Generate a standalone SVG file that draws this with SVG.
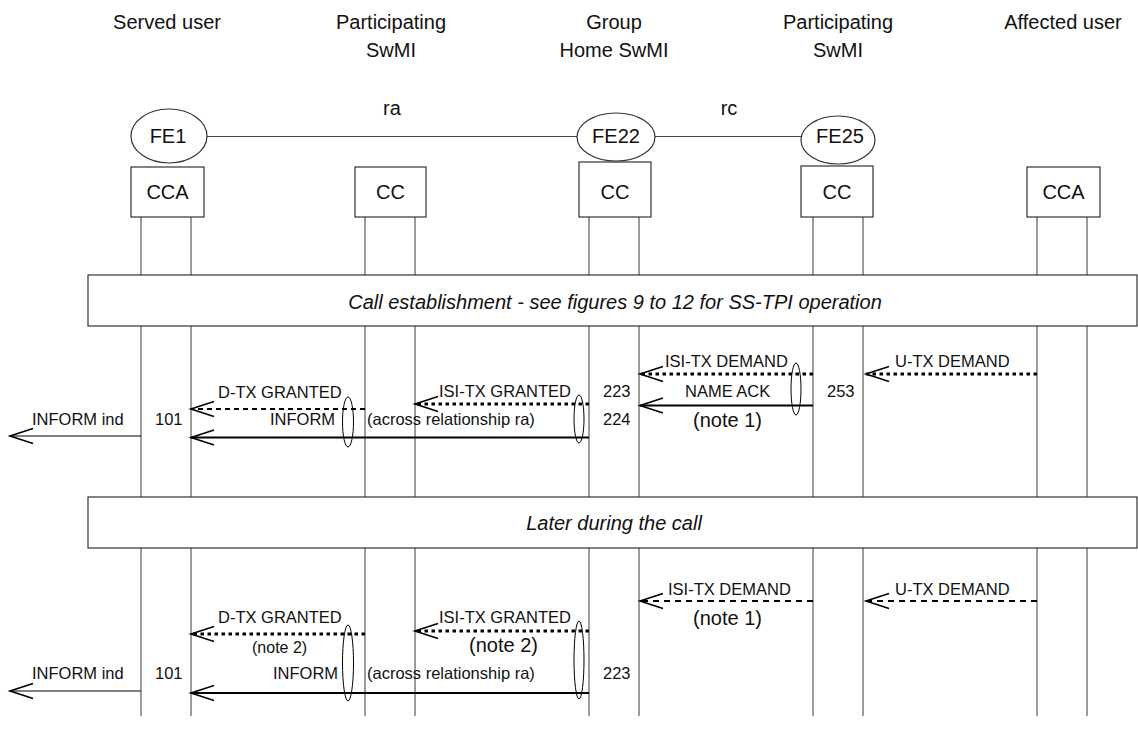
<svg xmlns="http://www.w3.org/2000/svg" width="1138" height="743" viewBox="0 0 1138 743">
<style>
text{font-family:"Liberation Sans",Arial,sans-serif;fill:#111}
.h{font-size:20px;text-anchor:middle}
.m{font-size:16.5px}
.n{font-size:20px}
.ns{font-size:16px}
.it{font-size:20px;font-style:italic;text-anchor:middle}
.life{stroke:#5a5a5a;stroke-width:1.2;fill:none}
.box{fill:#fff;stroke:#333;stroke-width:1.2}
.fe{fill:#fff;stroke:#333;stroke-width:1.2}
.rel{stroke:#444;stroke-width:1.2}
.solid{stroke:#000;stroke-width:2;fill:none}
.thin{stroke:#000;stroke-width:1;fill:none}
.dash{stroke:#000;stroke-width:2;stroke-dasharray:5 4;fill:none}
.dot{stroke:#000;stroke-width:3;stroke-dasharray:3.5 3.5;fill:none}
.oval{fill:none;stroke:#000;stroke-width:1}
</style>
<defs>
<marker id="ah" markerUnits="userSpaceOnUse" markerWidth="30" markerHeight="20" refX="0" refY="0" viewBox="-26 -10 30 20" orient="auto" overflow="visible">
<path d="M-23,-7.5 L0,0 L-23,7.5" fill="none" stroke="#000" stroke-width="1.6"/>
</marker>
</defs>

<g id="headers">
<text class="h" x="167" y="29">Served user</text>
<text class="h" x="391" y="29">Participating</text>
<text class="h" x="391" y="57">SwMI</text>
<text class="h" x="614" y="29">Group</text>
<text class="h" x="614" y="57">Home SwMI</text>
<text class="h" x="838" y="29">Participating</text>
<text class="h" x="838" y="57">SwMI</text>
<text class="h" x="1063" y="29">Affected user</text>
</g>

<g id="lifelines">
<line class="life" x1="141" y1="217" x2="141" y2="716"/>
<line class="life" x1="191" y1="217" x2="191" y2="716"/>
<line class="life" x1="365" y1="217" x2="365" y2="716"/>
<line class="life" x1="415" y1="217" x2="415" y2="716"/>
<line class="life" x1="589" y1="217" x2="589" y2="716"/>
<line class="life" x1="639" y1="217" x2="639" y2="716"/>
<line class="life" x1="813" y1="217" x2="813" y2="716"/>
<line class="life" x1="863" y1="217" x2="863" y2="716"/>
<line class="life" x1="1037" y1="217" x2="1037" y2="716"/>
<line class="life" x1="1087" y1="217" x2="1087" y2="716"/>
</g>

<g id="relations">
<line class="rel" x1="207" y1="136.5" x2="577" y2="136.5"/>
<line class="rel" x1="655" y1="136.5" x2="801" y2="136.5"/>
<text class="h" x="392" y="115">ra</text>
<text class="h" x="729" y="115">rc</text>
</g>

<g id="fe1">
<ellipse class="fe" cx="169" cy="136" rx="38" ry="27"/>
<text class="h" x="168" y="143">FE1</text>
<rect class="box" x="131" y="167" width="73" height="50"/>
<text class="h" x="167.5" y="199">CCA</text>
</g>
<g id="cc-part1">
<rect class="box" x="355" y="167" width="71" height="50"/>
<text class="h" x="390.5" y="199">CC</text>
</g>
<g id="fe22">
<ellipse class="fe" cx="616" cy="137" rx="39" ry="24"/>
<text class="h" x="616" y="143">FE22</text>
<rect class="box" x="579" y="162" width="72" height="55"/>
<text class="h" x="615" y="199">CC</text>
</g>
<g id="fe25">
<ellipse class="fe" cx="838" cy="140" rx="37" ry="24"/>
<text class="h" x="840" y="143">FE25</text>
<rect class="box" x="801" y="166" width="72" height="51"/>
<text class="h" x="837" y="199">CC</text>
</g>
<g id="cca-affected">
<rect class="box" x="1027" y="167" width="73" height="50"/>
<text class="h" x="1063.5" y="199">CCA</text>
</g>

<g id="phase1">
<rect class="box" x="88" y="275" width="1049" height="51"/>
<text class="it" x="615" y="309">Call establishment - see figures 9 to 12 for SS-TPI operation</text>
</g>
<g id="phase2">
<rect class="box" x="88" y="497" width="1049" height="51"/>
<text class="it" x="614" y="530">Later during the call</text>
</g>

<g id="connectors">
<line class="dot" x1="1037" y1="374" x2="866" y2="374" marker-end="url(#ah)"/>
<line class="dot" x1="813" y1="374" x2="640" y2="374" marker-end="url(#ah)"/>
<line class="solid" x1="813" y1="405.5" x2="640" y2="405.5" marker-end="url(#ah)"/>
<line class="dot" x1="589" y1="404" x2="415" y2="404" marker-end="url(#ah)"/>
<line class="dash" x1="365" y1="409" x2="191" y2="409" marker-end="url(#ah)"/>
<line class="solid" x1="589" y1="437.5" x2="191" y2="437.5" marker-end="url(#ah)"/>
<line class="thin" x1="141" y1="436" x2="10" y2="436" marker-end="url(#ah)"/>
<ellipse class="oval" cx="796" cy="389" rx="5" ry="26"/>
<ellipse class="oval" cx="579" cy="419" rx="5" ry="24"/>
<ellipse class="oval" cx="348" cy="422" rx="5.5" ry="25"/>
<line class="dash" x1="1037" y1="601" x2="866" y2="601" marker-end="url(#ah)" style="stroke-dasharray:6 5"/>
<line class="dash" x1="813" y1="601" x2="640" y2="601" marker-end="url(#ah)" style="stroke-dasharray:6 5"/>
<line class="dot" x1="589" y1="631" x2="415" y2="631" marker-end="url(#ah)"/>
<line class="dot" x1="365" y1="634" x2="191" y2="634" marker-end="url(#ah)"/>
<line class="solid" x1="589" y1="693" x2="191" y2="693" marker-end="url(#ah)"/>
<line class="thin" x1="141" y1="691" x2="10" y2="691" marker-end="url(#ah)"/>
<ellipse class="oval" cx="579" cy="660" rx="5" ry="39"/>
<ellipse class="oval" cx="348" cy="663" rx="5.5" ry="38"/>
</g>

<g id="labels">
<text class="m" x="895" y="367">U-TX DEMAND</text>
<text class="m" x="665" y="367">ISI-TX DEMAND</text>
<text class="m" x="685" y="397">NAME ACK</text>
<text class="n" x="693" y="427">(note 1)</text>
<text class="m" x="827" y="397">253</text>
<text class="m" x="603" y="397">223</text>
<text class="m" x="603" y="425">224</text>
<text class="m" x="439" y="397">ISI-TX GRANTED</text>
<text class="m" x="218" y="398">D-TX GRANTED</text>
<text class="m" x="270" y="425">INFORM</text>
<text class="m" x="367" y="425">(across relationship ra)</text>
<text class="m" x="155" y="425">101</text>
<text class="m" x="32" y="425">INFORM ind</text>

<text class="m" x="895" y="595">U-TX DEMAND</text>
<text class="m" x="668" y="595">ISI-TX DEMAND</text>
<text class="n" x="693" y="625">(note 1)</text>
<text class="m" x="439" y="623">ISI-TX GRANTED</text>
<text class="n" x="469" y="652">(note 2)</text>
<text class="m" x="218" y="623">D-TX GRANTED</text>
<text class="ns" x="252" y="653">(note 2)</text>
<text class="m" x="273" y="679">INFORM</text>
<text class="m" x="367" y="679">(across relationship ra)</text>
<text class="m" x="603" y="679">223</text>
<text class="m" x="155" y="679">101</text>
<text class="m" x="32" y="679">INFORM ind</text>
</g>
</svg>
